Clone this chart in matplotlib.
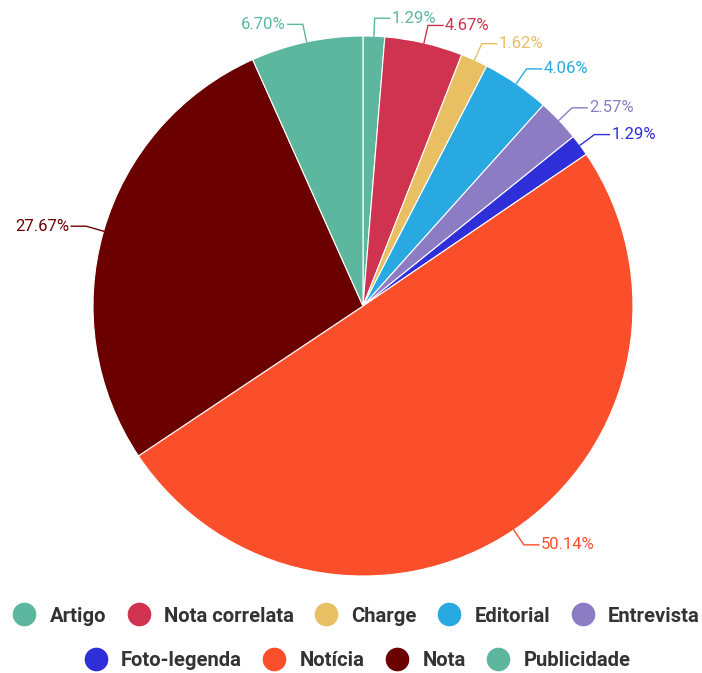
import numpy as np
import matplotlib
matplotlib.use("Agg")
import matplotlib.pyplot as plt
from matplotlib.lines import Line2D

plt.rcParams['font.family'] = ['Roboto', 'DejaVu Sans']

categories = ['Artigo', 'Nota correlata', 'Charge', 'Editorial', 'Entrevista',
              'Foto-legenda', 'Notícia', 'Nota', 'Publicidade']
shares = [1.29, 4.67, 1.62, 4.06, 2.57, 1.29, 50.14, 27.67, 6.70]
colors = ['#5db79e', '#cf3350', '#e8bf62', '#28a9e1', '#8c7cc4',
          '#2f2fd9', '#fb4f2c', '#6b0000', '#5db79e']

W, H = 702, 673
fig = plt.figure(figsize=(W / 100, H / 100), dpi=100)
ax = fig.add_axes([0, 0, 1, 1])

cx, cy, R = 363, H - 306, 270
wedges, _ = ax.pie(shares, colors=colors, startangle=90, counterclock=False,
                   center=(cx, cy), radius=R,
                   wedgeprops=dict(edgecolor='white', linewidth=0.8))
ax.set_xlim(0, W)
ax.set_ylim(0, H)
ax.set_aspect('equal')
ax.axis('off')

# percentage labels with bent connectors
for w, v, c in zip(wedges, shares, colors):
    ang = np.deg2rad((w.theta1 + w.theta2) / 2)
    ca, sa = np.cos(ang), np.sin(ang)
    p0 = (cx + R * ca, cy + R * sa)
    p1 = (cx + (R + 18) * ca, cy + (R + 18) * sa)
    side = 1 if ca >= 0 else -1
    p2 = (p1[0] + side * 15, p1[1])
    ax.plot([p0[0], p1[0], p2[0]], [p0[1], p1[1], p2[1]], color=c, lw=1,
            solid_joinstyle='miter')
    ax.text(p2[0] + side * 2, p2[1], f"{v:.2f}%", color=c, fontsize=12,
            ha='left' if side > 0 else 'right', va='center')

def handles(idx):
    return [Line2D([], [], marker='o', linestyle='none', markersize=16,
                   markerfacecolor=colors[i], markeredgecolor=colors[i],
                   label=categories[i]) for i in idx]

legend_kw = dict(frameon=False, handlelength=1.0, handletextpad=0.75,
                 columnspacing=1.1, borderpad=0, borderaxespad=0,
                 prop={'family': 'Roboto', 'weight': 'bold', 'size': 14.6},
                 labelcolor='#333333', loc='center')
leg1 = fig.legend(handles=handles(range(5)), ncol=5,
                  bbox_to_anchor=(357 / W, 1 - 616 / H), **legend_kw)
leg2 = fig.legend(handles=handles(range(5, 9)), ncol=4,
                  bbox_to_anchor=(358 / W, 1 - 661 / H), **legend_kw)

fig.savefig('out.png', dpi=100, facecolor='white')
